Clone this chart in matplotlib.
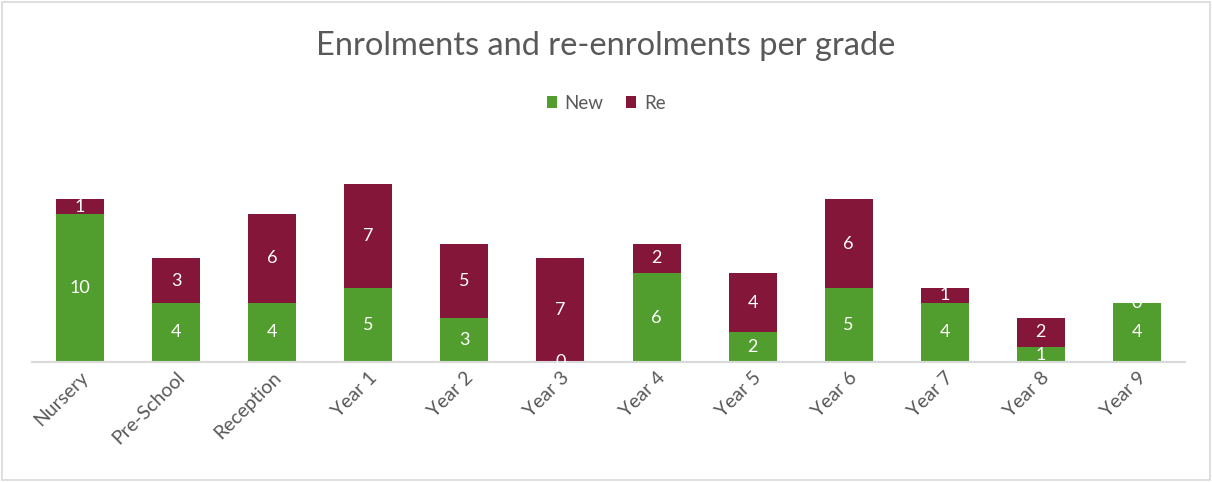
import matplotlib.pyplot as plt
import numpy as np
from matplotlib.patches import Rectangle

grades = ['Nursery', 'Pre-School', 'Reception', 'Year 1', 'Year 2', 'Year 3',
          'Year 4', 'Year 5', 'Year 6', 'Year 7', 'Year 8', 'Year 9']
new = [10, 4, 4, 5, 3, 0, 6, 2, 5, 4, 1, 4]
re = [1, 3, 6, 7, 5, 7, 2, 4, 6, 1, 2, 0]

green = '#519E2F'
maroon = '#84163A'
grey = '#595959'

plt.rcParams['font.family'] = ['Lato', 'DejaVu Sans']

fig = plt.figure(figsize=(12.12, 4.82), dpi=100)
# outer chart border
fig.patches.append(Rectangle((0.002, 0.004), 0.996, 0.992, transform=fig.transFigure,
                             fill=False, edgecolor='#D9D9D9', linewidth=1.2))
ax = fig.add_axes([0.0264, 0.249, 0.9513, 0.4606])

x = np.arange(len(grades))
b1 = ax.bar(x, new, width=0.5, color=green, label='New')
b2 = ax.bar(x, re, width=0.5, bottom=new, color=maroon, label='Re')

# data labels, centred in each segment; zero labels clipped by the neighbouring bar
for i in range(len(grades)):
    for val, base, bar, other in [(new[i], 0, b1[i], b2[i]), (re[i], new[i], b2[i], b1[i])]:
        t = ax.text(x[i], base + val / 2, str(val), ha='center', va='center',
                    color='white', fontsize=13)
        t.set_clip_path(bar if val > 0 else other)

ax.set_xlim(-0.5, len(grades) - 0.5)
ax.set_ylim(0, 15)
ax.set_yticks([])
for s in ['top', 'right', 'left']:
    ax.spines[s].set_visible(False)
ax.spines['bottom'].set_color('#D9D9D9')
ax.spines['bottom'].set_linewidth(1.5)
ax.set_xticks(x)
ax.set_xticklabels(grades, rotation=45, ha='right', rotation_mode='anchor',
                   color=grey, fontsize=14)
ax.tick_params(axis='x', length=0, pad=5)

fig.text(0.5, 0.905, 'Enrolments and re-enrolments per grade', ha='center', va='center',
         fontsize=23.5, color=grey)
fig.legend(loc='center', bbox_to_anchor=(0.5, 0.786), ncol=2, frameon=False,
           handlelength=0.55, handleheight=0.55, handletextpad=0.4, columnspacing=1.2,
           labelcolor=grey, fontsize=13.5)

fig.savefig('out.png', dpi=100)
